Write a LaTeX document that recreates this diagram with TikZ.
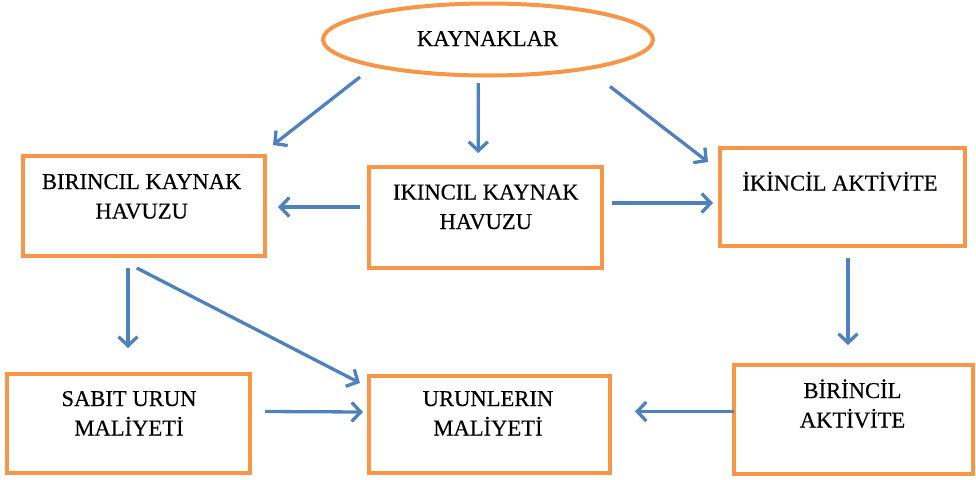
\documentclass[tikz,border=0pt]{standalone}
\usepackage{fontspec}
\setmainfont{Liberation Serif}
\newfontfamily\labelfont[FakeBold=0.35]{Liberation Serif}
\usetikzlibrary{arrows.meta,shapes.geometric,calc}
\definecolor{boxorange}{HTML}{F79646}
\definecolor{arrowblue}{HTML}{4F81BD}
\begin{document}
\begin{tikzpicture}[x=1pt,y=-1pt,
  box/.style={draw=boxorange, line width=4pt, fill=white, inner sep=0pt, outer sep=0pt},
  oval/.style={ellipse, draw=boxorange, line width=4pt, fill=white, inner sep=0pt, outer sep=0pt},
  lbl/.style={align=center, font=\labelfont\fontsize{22.6}{29.5}\selectfont, inner sep=0pt, anchor=base},
  link/.style={draw=arrowblue, line width=3.3pt, -{Straight Barb[length=9pt,width=19pt]}}]
\useasboundingbox (0,0) rectangle (976,479);

% source ellipse
\node[oval, minimum width=330pt, minimum height=72pt] (k) at (488,39.5) {};
\node[lbl] (kt) at (487.5,46) {KAYNAKLAR};

% boxes
\node[box, minimum width=242.5pt, minimum height=100pt] (b1) at (143.75,206) {};
\node[box, minimum width=233.5pt, minimum height=101pt] (b2) at (485.25,217.5) {};
\node[box, minimum width=245pt,   minimum height=98pt]  (b3) at (842.5,197) {};
\node[box, minimum width=243pt,   minimum height=99pt]  (b4) at (128.5,423.5) {};
\node[box, minimum width=241.5pt, minimum height=97pt]  (b5) at (489.25,424.5) {};
\node[box, minimum width=239.5pt, minimum height=109pt] (b6) at (853.25,419.5) {};

% labels (anchored at the baseline of the last line)
\node[lbl] (b1t) at (141.7,218.5) {BIRINCIL KAYNAK\\HAVUZU};
\node[lbl] (b2t) at (485.8,229) {IKINCIL KAYNAK\\HAVUZU};
\node[lbl] (b3t) at (840,190.5) {İKİNCİL AKTİVİTE};
\node[lbl] (b4t) at (129,435.5) {SABIT URUN\\MALİYETİ};
\node[lbl] (b5t) at (488,435.5) {URUNLERIN\\MALİYETİ};
\node[lbl] (b6t) at (852.5,427.5) {BİRİNCİL\\AKTİVİTE};

% connectors
\draw[link] ($(k.south)+(-128,1.5)$) -- ($(b1.north east)+(8,-11)$);
\draw[link] ($(k.south)+(-9.7,7.5)$) -- ($(b2.north)+(-7,-14)$);
\draw[link] ($(k.south)+(122,11)$) -- ($(b3.north west)+(-12,14)$);
\draw[link] ($(b2.west)+(-8.5,-10.5)$) -- ($(b1.east)+(13,1)$);
\draw[link] ($(b2.east)+(10,-14.5)$) -- ($(b3.west)+(-7,6)$);
\draw[link] ($(b1.south)+(-15.75,12)$) -- ($(b4.north)+(-0.5,-26)$);
\draw[link] ($(b1.south)+(-7,12)$) -- ($(b5.north west)+(-8.5,7)$);
\draw[link] ($(b3.south)+(5.5,12)$) -- ($(b6.north)+(-5.25,-20)$);
\draw[link] ($(b6.west)+(0,-8)$) -- ($(b5.east)+(25,-13)$);
\draw[link] ($(b4.east)+(15,-12)$) -- ($(b5.west)+(-5.5,-12.5)$);
\end{tikzpicture}
\end{document}
